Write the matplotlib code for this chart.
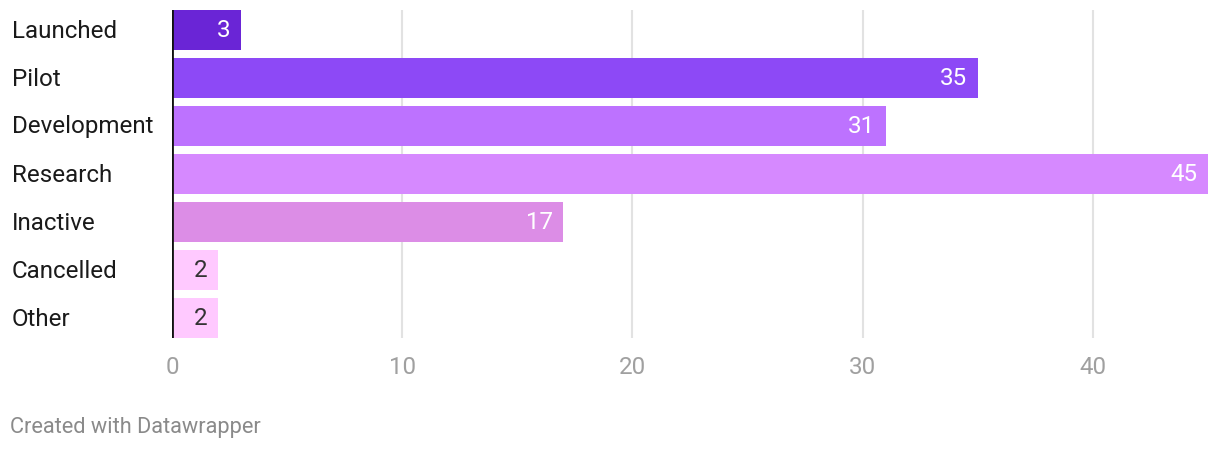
import matplotlib
matplotlib.use("Agg")
import matplotlib.pyplot as plt

categories = ["Launched", "Pilot", "Development", "Research", "Inactive", "Cancelled", "Other"]
values = [3, 35, 31, 45, 17, 2, 2]
colors = ["#6a25d6", "#8d49f6", "#bd72ff", "#d689ff", "#dc8de6", "#ffc9ff", "#ffc9ff"]
label_colors = ["white", "white", "white", "white", "white", "#333333", "#333333"]
xticks = [0, 10, 20, 30, 40]

plt.rcParams['font.family'] = ['Roboto', 'DejaVu Sans']

W, H = 1220, 450
fig = plt.figure(figsize=(W / 100, H / 100), dpi=100)
left, right, top, bottom = 172, 1208, 10, 338
ax = fig.add_axes([left / W, 1 - bottom / H, (right - left) / W, (bottom - top) / H])

n = len(categories)
ypos = list(range(n))
bh = 40 / 48
ax.barh(ypos, values, height=bh, color=colors, zorder=2)
ax.set_ylim(n - 1 + bh / 2, -bh / 2)
ax.set_xlim(0, 45)

for x in xticks:
    ax.axvline(x, color="#e2e2e2", lw=1.5, zorder=1)
ax.axvline(0, color="#111111", lw=2, zorder=3)

for y, v, c in zip(ypos, values, label_colors):
    ax.annotate(str(v), (v, y), xytext=(-7.5, -0.7), textcoords="offset points",
                ha="right", va="center", color=c, fontsize=17.4, zorder=4)

ax.set_xticks(xticks)
ax.set_xticklabels([str(t) for t in xticks], fontsize=17.4, color="#a0a0a0")
ax.tick_params(axis="x", length=0, pad=13)
ax.set_yticks([])
for s in ax.spines.values():
    s.set_visible(False)

for y, cat in zip(ypos, categories):
    fig.text(12 / W, 1 - (top + 21 + 48 * y) / H, cat, ha="left", va="center",
             fontsize=17.4, color="#1a1a1a")

fig.text(10 / W, 1 - 428 / H, "Created with Datawrapper", ha="left", va="center",
         fontsize=15.7, color="#8a8a8a")

fig.savefig("out.png", dpi=100)
